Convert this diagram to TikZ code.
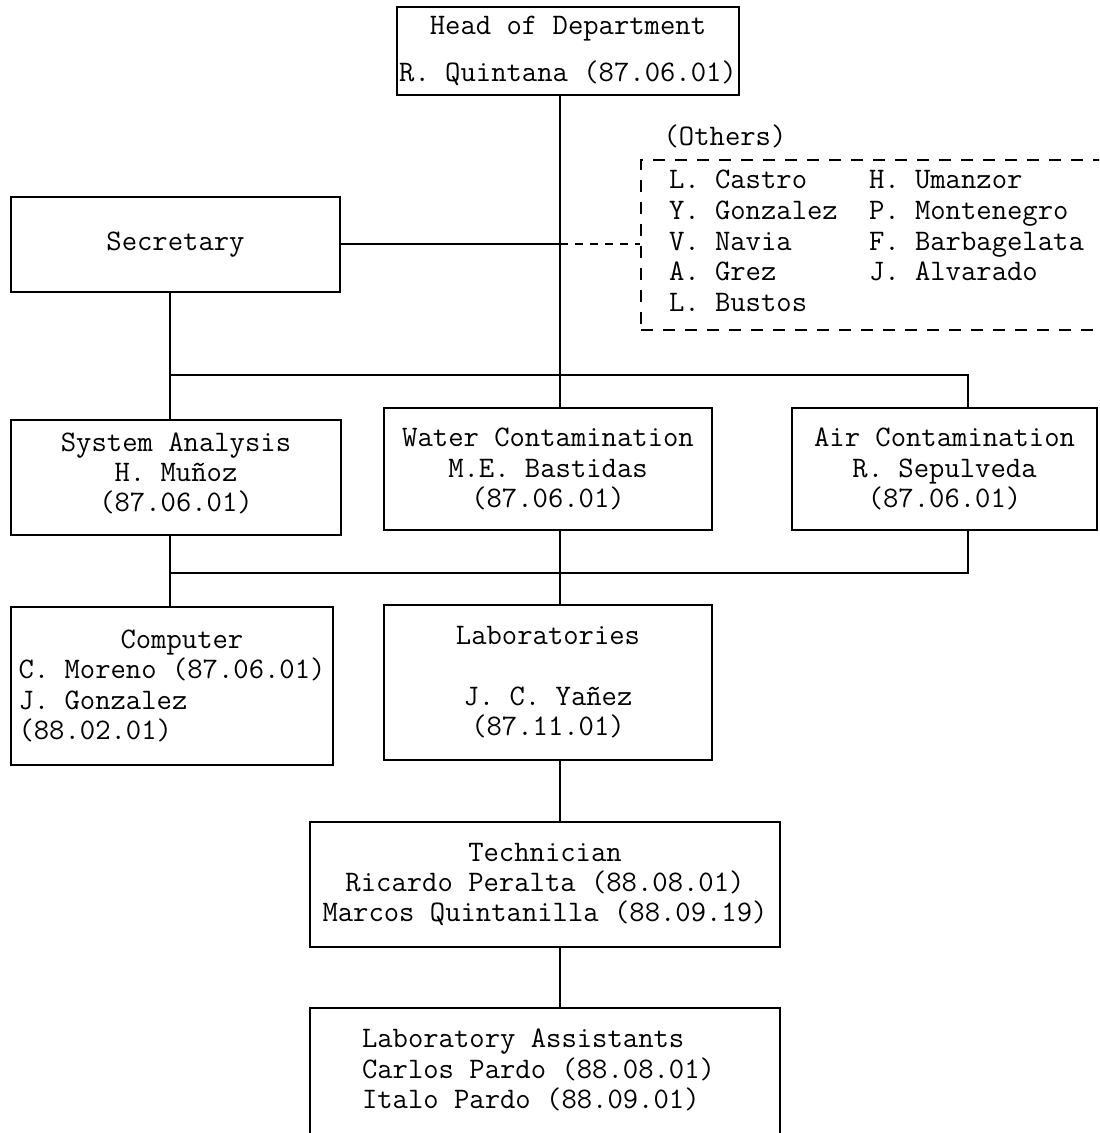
\documentclass[tikz,border=0pt]{standalone}
\usepackage{fontspec}
\usetikzlibrary{fit}

\begin{document}
\begin{tikzpicture}[x=0.5pt, y=-0.5pt, line width=1pt,
    font=\ttfamily\fontsize{14.9}{15.2}\selectfont,
    every label/.append style={align=center, inner sep=0pt},
    unit/.style={draw, rectangle, inner sep=0pt},
    names/.style={draw, rectangle, inner sep=0pt, line width=0.8pt, dash pattern=on 6pt off 5pt}]
    \useasboundingbox (0,0) rectangle (1099,1133);
    \clip (0,0) rectangle (1099,1133);
    \coordinate (trunk) at (560,0);
    \coordinate (lcol) at (170,0);
    \coordinate (busA) at (968,375);
    \coordinate (busB) at (968,573);
    % boxes
    \node [unit, fit={(397,7) (739,95)}, label={center:Head of Department\\[8.5pt]R. Quintana (87.06.01)}] (head) {};
    \node [unit, fit={(11,197) (340,292)}, label={center:Secretary}] (secretary) {};
    \node [names, fit={(641,160) (1140,330)}] (others) {};
    \node at (725,136) (otherstitle) {(Others)};
    \node [anchor=west, inner sep=0pt, font=\ttfamily\fontsize{14.9}{15.4}\selectfont] at (668,244) (othernames)
        {\begin{tabular}{@{}p{100pt}@{}l@{}}
            L. Castro & H. Umanzor\\
            Y. Gonzalez & P. Montenegro\\
            V. Navia & F. Barbagelata\\
            A. Grez & J. Alvarado\\
            L. Bustos &
        \end{tabular}};
    \node [unit, fit={(11,420) (341,535)}, label={[yshift=2pt]center:System Analysis\\H. Muñoz\\(87.06.01)}] (sysan) {};
    \node [unit, fit={(384,408) (712,530)}, label={center:Water Contamination\\M.E. Bastidas\\(87.06.01)}] (water) {};
    \node [unit, fit={(792,408) (1097,530)}, label={center:Air Contamination\\R. Sepulveda\\(87.06.01)}] (air) {};
    \node [unit, fit={(11,607) (333,765)}, label={[align=left]center:\hspace*{51pt}Computer\\C. Moreno (87.06.01)\\J. Gonzalez\\(88.02.01)}] (comp) {};
    \node [unit, fit={(384,605) (712,760)}, label={center:Laboratories\\[15pt]J. C. Yañez\\(87.11.01)}] (lab) {};
    \node [unit, fit={(310,822) (780,947)}, label={center:Technician\\Ricardo Peralta (88.08.01)\\Marcos Quintanilla (88.09.19)}] (tech) {};
    \node [unit, fit={(310,1008) (780,1200)}] (assist) {};
    \node [anchor=west, align=left, inner sep=0pt] at (361,1070) (assistnames)
        {Laboratory Assistants\\Carlos Pardo (88.08.01)\\Italo Pardo (88.09.01)};
    % connectors
    \draw (head.south -| trunk) -- (water.north -| trunk);
    \draw (secretary.east) -- (secretary.east -| trunk);
    \draw [dash pattern=on 4pt off 3.5pt] (secretary.east -| trunk) -- (others.west |- secretary.east);
    \draw (secretary.south -| lcol) -- (sysan.north -| lcol);
    \draw (lcol |- busA) -- (busA) -- (air.north -| busA);
    \draw (sysan.south -| lcol) -- (comp.north -| lcol);
    \draw (air.south -| busB) -- (busB) -- (lcol |- busB);
    \draw (water.south -| trunk) -- (lab.north -| trunk);
    \draw (lab.south -| trunk) -- (tech.north -| trunk);
    \draw (tech.south -| trunk) -- (assist.north -| trunk);
\end{tikzpicture}
\end{document}
